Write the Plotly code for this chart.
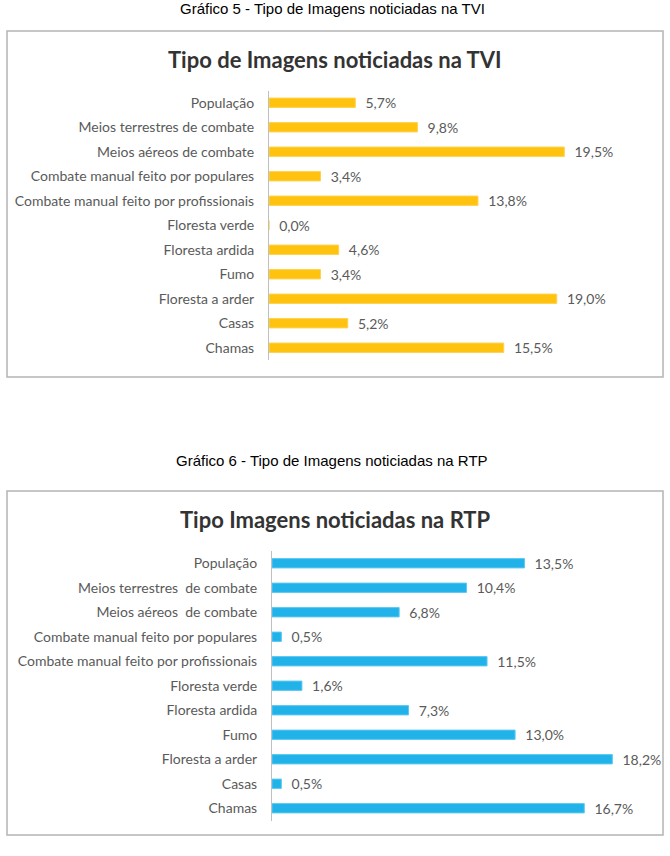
import plotly.graph_objects as go

W, H = 670, 856

cats_tvi = ["População", "Meios terrestres de combate", "Meios aéreos de combate",
            "Combate manual feito por populares", "Combate manual feito por profissionais",
            "Floresta verde", "Floresta ardida", "Fumo", "Floresta a arder", "Casas", "Chamas"]
vals_tvi = [5.7, 9.8, 19.5, 3.4, 13.8, 0.0, 4.6, 3.4, 19.0, 5.2, 15.5]

cats_rtp = ["População", "Meios terrestres  de combate", "Meios aéreos  de combate",
            "Combate manual feito por populares", "Combate manual feito por profissionais",
            "Floresta verde", "Floresta ardida", "Fumo", "Floresta a arder", "Casas", "Chamas"]
vals_rtp = [13.5, 10.4, 6.8, 0.5, 11.5, 1.6, 7.3, 13.0, 18.2, 0.5, 16.7]

caption_tvi = "Gráfico 5 - Tipo de Imagens noticiadas na TVI"
caption_rtp = "Gráfico 6 - Tipo de Imagens noticiadas na RTP"
title_tvi = "Tipo de Imagens noticiadas na TVI"
title_rtp = "Tipo Imagens noticiadas na RTP"

GRAY = "#5a5a5a"
FONT = "Lato"


def px(x):
    return x / W


def py(y):
    return 1 - y / H


def fmt(v):
    return "\u00a0\u00a0" + f"{v:.1f}".replace(".", ",") + "%"


fig = go.Figure()

fig.add_trace(go.Bar(
    y=cats_tvi, x=vals_tvi, orientation="h",
    marker=dict(color="#FFC20E", line=dict(color="#FFD24D", width=1)),
    text=[fmt(v) for v in vals_tvi], textposition="outside", constraintext="none",
    textfont=dict(family=FONT, size=14, color=GRAY),
    cliponaxis=False, xaxis="x", yaxis="y", hoverinfo="skip",
))
fig.add_trace(go.Bar(
    y=cats_rtp, x=vals_rtp, orientation="h",
    marker=dict(color="#22B2EA", line=dict(color="#5CC8F2", width=1)),
    text=[fmt(v) for v in vals_rtp], textposition="outside", constraintext="none",
    textfont=dict(family=FONT, size=14, color=GRAY),
    cliponaxis=False, xaxis="x2", yaxis="y2", hoverinfo="skip",
))

yax_common = dict(
    autorange="reversed", showline=True, linecolor="#BFBFBF", linewidth=1,
    showgrid=False, zeroline=False, ticks="", ticklabelstandoff=11,
    tickfont=dict(family=FONT, size=14, color=GRAY), fixedrange=True,
)
xax_common = dict(visible=False, showgrid=False, zeroline=False, fixedrange=True)

fig.update_layout(
    width=W, height=H,
    margin=dict(l=0, r=0, t=0, b=0),
    paper_bgcolor="white", plot_bgcolor="white",
    showlegend=False, bargap=0.62,
    uniformtext=dict(mode=False),
    xaxis=dict(domain=[px(269), px(640)], range=[0, 24.5], anchor="y", **xax_common),
    yaxis=dict(domain=[py(360), py(90.5)], anchor="x", **yax_common),
    xaxis2=dict(domain=[px(272), px(640)], range=[0, 19.68], anchor="y2", **xax_common),
    yaxis2=dict(domain=[py(820.5), py(551)], anchor="x2", **yax_common),
    shapes=[
        dict(type="rect", xref="paper", yref="paper", x0=px(7), x1=px(663), y0=py(377), y1=py(31),
             line=dict(color="#B4B4B4", width=1.5), fillcolor="rgba(0,0,0,0)", layer="below"),
        dict(type="rect", xref="paper", yref="paper", x0=px(7), x1=px(663), y0=py(835), y1=py(491),
             line=dict(color="#B4B4B4", width=1.5), fillcolor="rgba(0,0,0,0)", layer="below"),
    ],
    annotations=[
        dict(text=caption_tvi, x=px(332), y=py(9), xref="paper", yref="paper", showarrow=False,
             xanchor="center", yanchor="middle",
             font=dict(family="Liberation Sans", size=15, color="#000000")),
        dict(text=title_tvi, x=0.5, y=py(60), xref="paper", yref="paper", showarrow=False,
             xanchor="center", yanchor="middle",
             font=dict(family=FONT, size=22, color="#333333", weight="bold")),
        dict(text=caption_rtp, x=px(332), y=py(460), xref="paper", yref="paper", showarrow=False,
             xanchor="center", yanchor="middle",
             font=dict(family="Liberation Sans", size=15, color="#000000")),
        dict(text=title_rtp, x=0.5, y=py(519), xref="paper", yref="paper", showarrow=False,
             xanchor="center", yanchor="middle",
             font=dict(family=FONT, size=22, color="#333333", weight="bold")),
    ],
)

fig.write_html("out.html", config={"displayModeBar": False})
